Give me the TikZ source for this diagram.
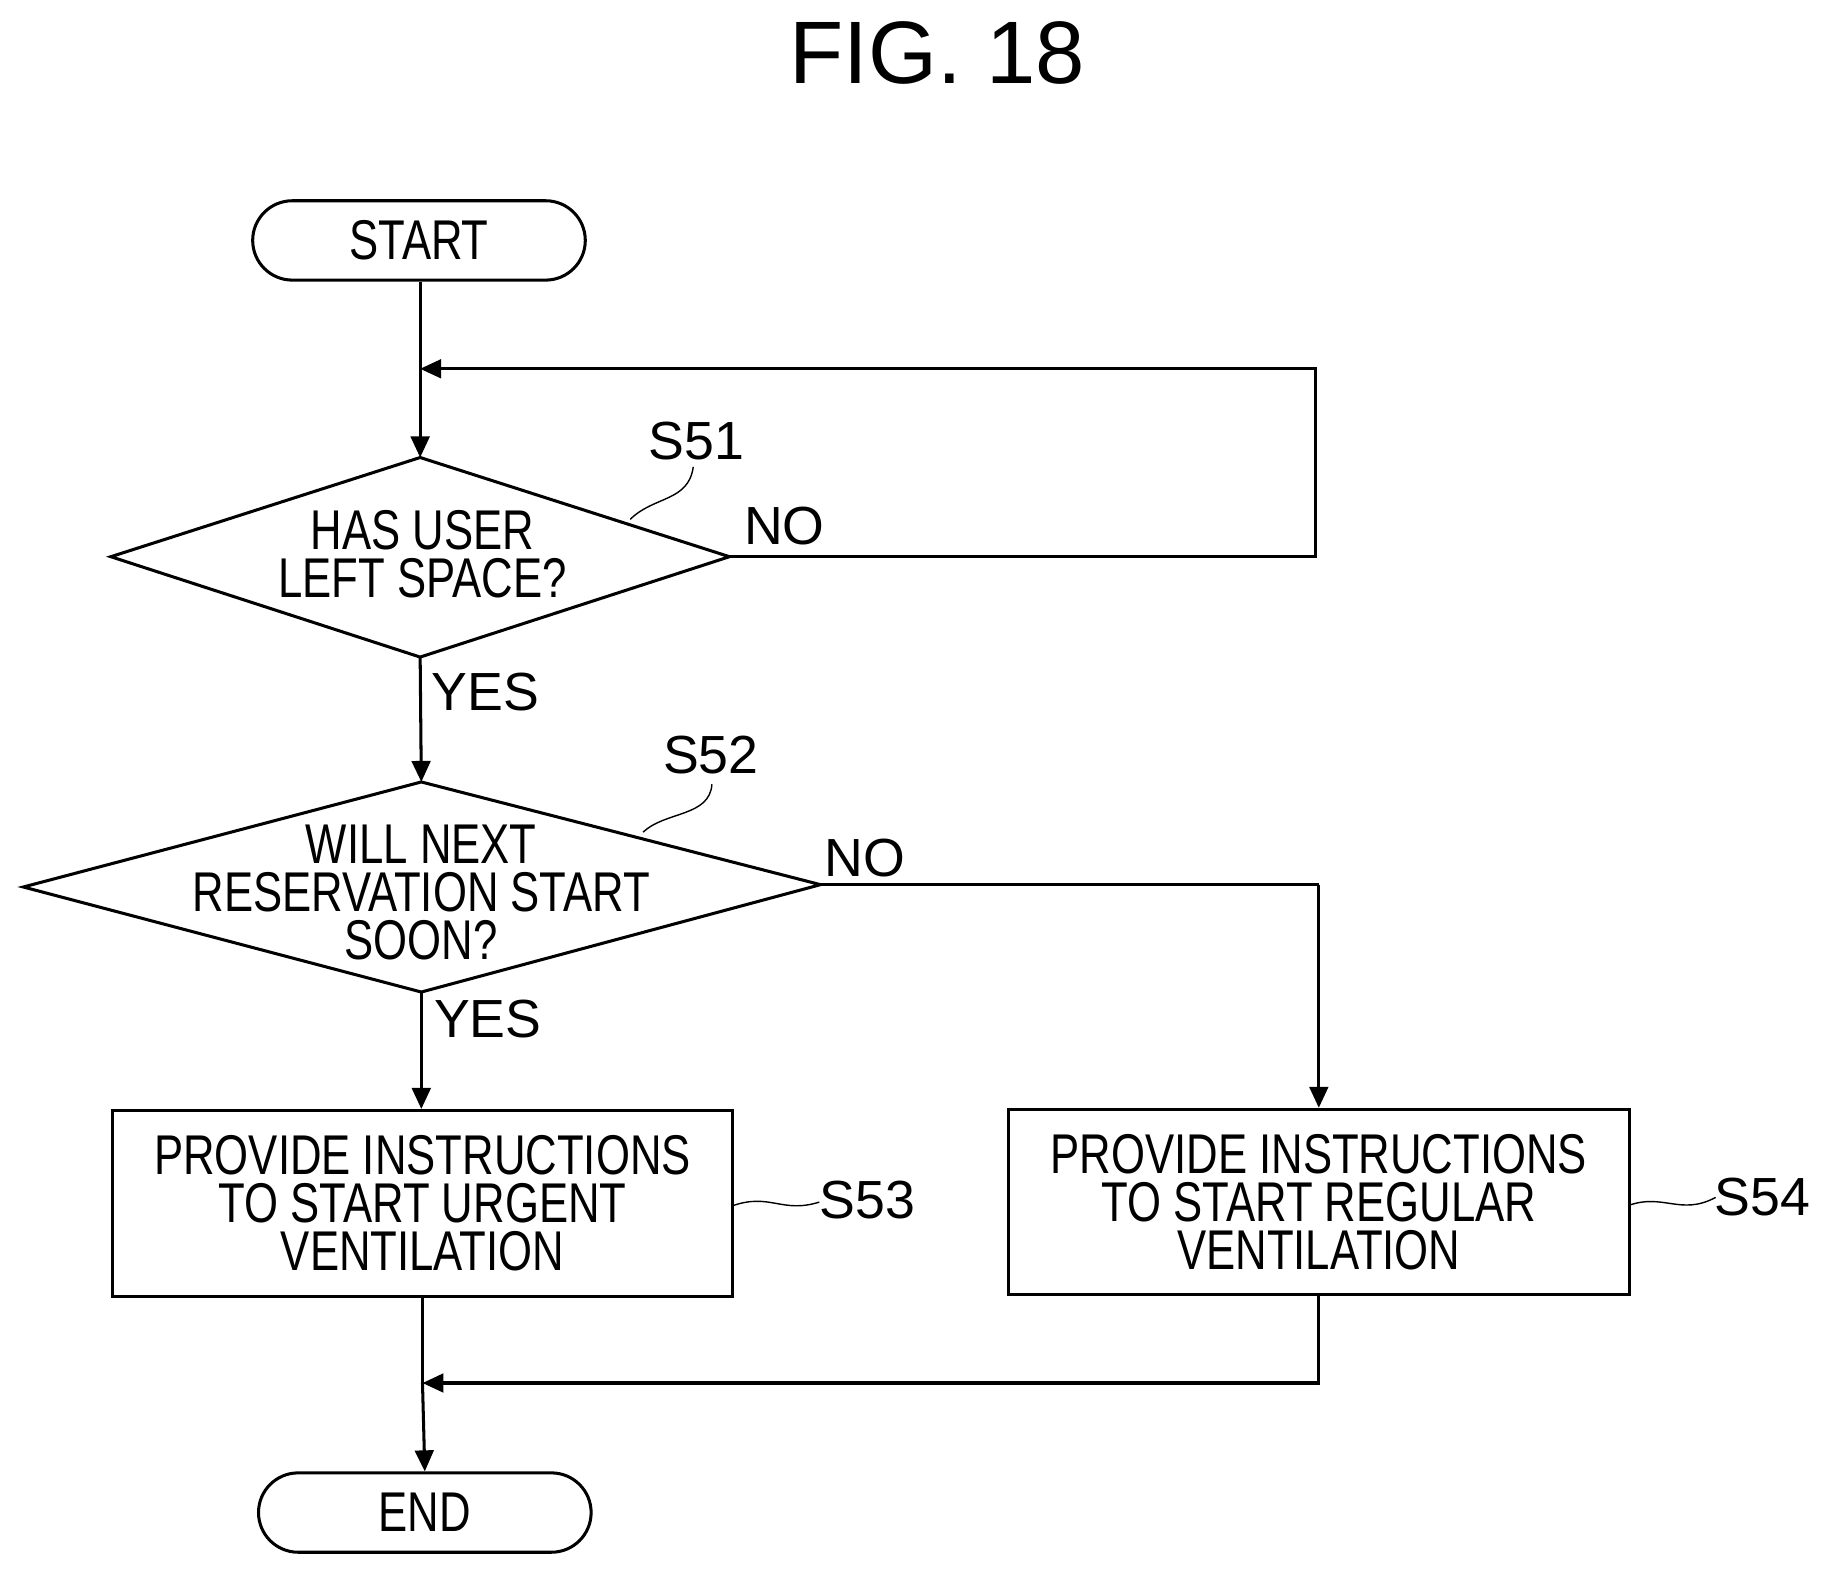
\documentclass[tikz,border=0pt]{standalone}
\usepackage{fontspec}
\setmainfont{Liberation Sans}
\newfontfamily\narrow[FakeStretch=0.78]{Liberation Sans}
\usetikzlibrary{arrows.meta}
\begin{document}
\begin{tikzpicture}[x=0.5pt,y=-0.5pt,line width=1.3pt,
  txt/.style={font=\narrow\fontsize{24}{20.5}\selectfont,align=center},
  lab/.style={font=\fontsize{23}{23}\selectfont},
  term/.style={txt,draw,rounded corners=17pt,minimum width=142.5pt,minimum height=34pt,inner sep=0pt},
  box/.style={txt,draw,minimum width=266pt,minimum height=79.5pt,inner sep=0pt},
  arr/.style={-{Triangle[length=9pt,width=8pt]}},
  sq/.style={line width=0.6pt}]
\useasboundingbox (0,0) rectangle (1580,1359);
\node[font=\fontsize{38}{38}\selectfont] (fig) at (803,45) {FIG. 18};
\node[term] (start) at (359,206) {START};
% diamond 1
\coordinate (d1t) at (360,392); \coordinate (d1b) at (360,563);
\coordinate (d1l) at (95,477); \coordinate (d1r) at (625,477);
\draw (d1t) -- (d1r) -- (d1b) -- (d1l) -- cycle;
\node[txt] (d1) at (362,475) {HAS USER\\LEFT SPACE?};
% diamond 2
\coordinate (d2t) at (361,670); \coordinate (d2b) at (361,850);
\coordinate (d2l) at (20,760); \coordinate (d2r) at (703,758);
\draw (d2t) -- (d2r) -- (d2b) -- (d2l) -- cycle;
\node[txt] (d2) at (361,765) {WILL NEXT\\RESERVATION START\\SOON?};
\node[box] (b1) at (362,1031) {PROVIDE INSTRUCTIONS\\TO START URGENT\\VENTILATION};
\node[box] (b2) at (1130,1030) {PROVIDE INSTRUCTIONS\\TO START REGULAR\\VENTILATION};
\node[term] (end) at (364,1296) {END};
\coordinate (j1) at (360,316);
\coordinate (c1) at (1127,477);
\coordinate (c2) at (1127,316);
\coordinate (c3) at (1130,758);
\coordinate (j2) at (362,1185);
\coordinate (c4) at (1130,1185);
\draw (start.south -| j1) -- (j1);
\draw[arr] (j1) -- (d1t);
\draw[arr] (d1r) -- (c1) -- (c2) -- (j1);
\draw[arr] (d1b) -- (d2t);
\draw (d2r) -- (c3);
\draw[arr] (c3) -- (b2.north);
\draw[arr] (d2b) -- (d2b |- b1.north);
\draw (b1.south) -- (j2);
\draw[arr] (j2) -- (end.north);
\draw[arr] (b2.south) -- (c4) -- (j2);
\node[lab] (nl1) at (672,451) {NO};
\node[lab] (yl1) at (416,593) {YES};
\node[lab] (nl2) at (741,735) {NO};
\node[lab] (yl2) at (418,873) {YES};
\node[lab] (s51) at (597,378) {S51};
\node[lab] (s52) at (609,647) {S52};
\node[lab] (s53) at (743,1028) {S53};
\node[lab] (s54) at (1510,1026) {S54};
\draw[sq] (540,445) .. controls (560,425) and (590,430) .. (594,400);
\draw[sq] (551,713) .. controls (570,695) and (608,700) .. (610,672);
\draw[sq] (628,1033) .. controls (660,1022) and (670,1040) .. (702,1030);
\draw[sq] (1395,1033) .. controls (1425,1022) and (1440,1042) .. (1470,1026);
\end{tikzpicture}
\end{document}
